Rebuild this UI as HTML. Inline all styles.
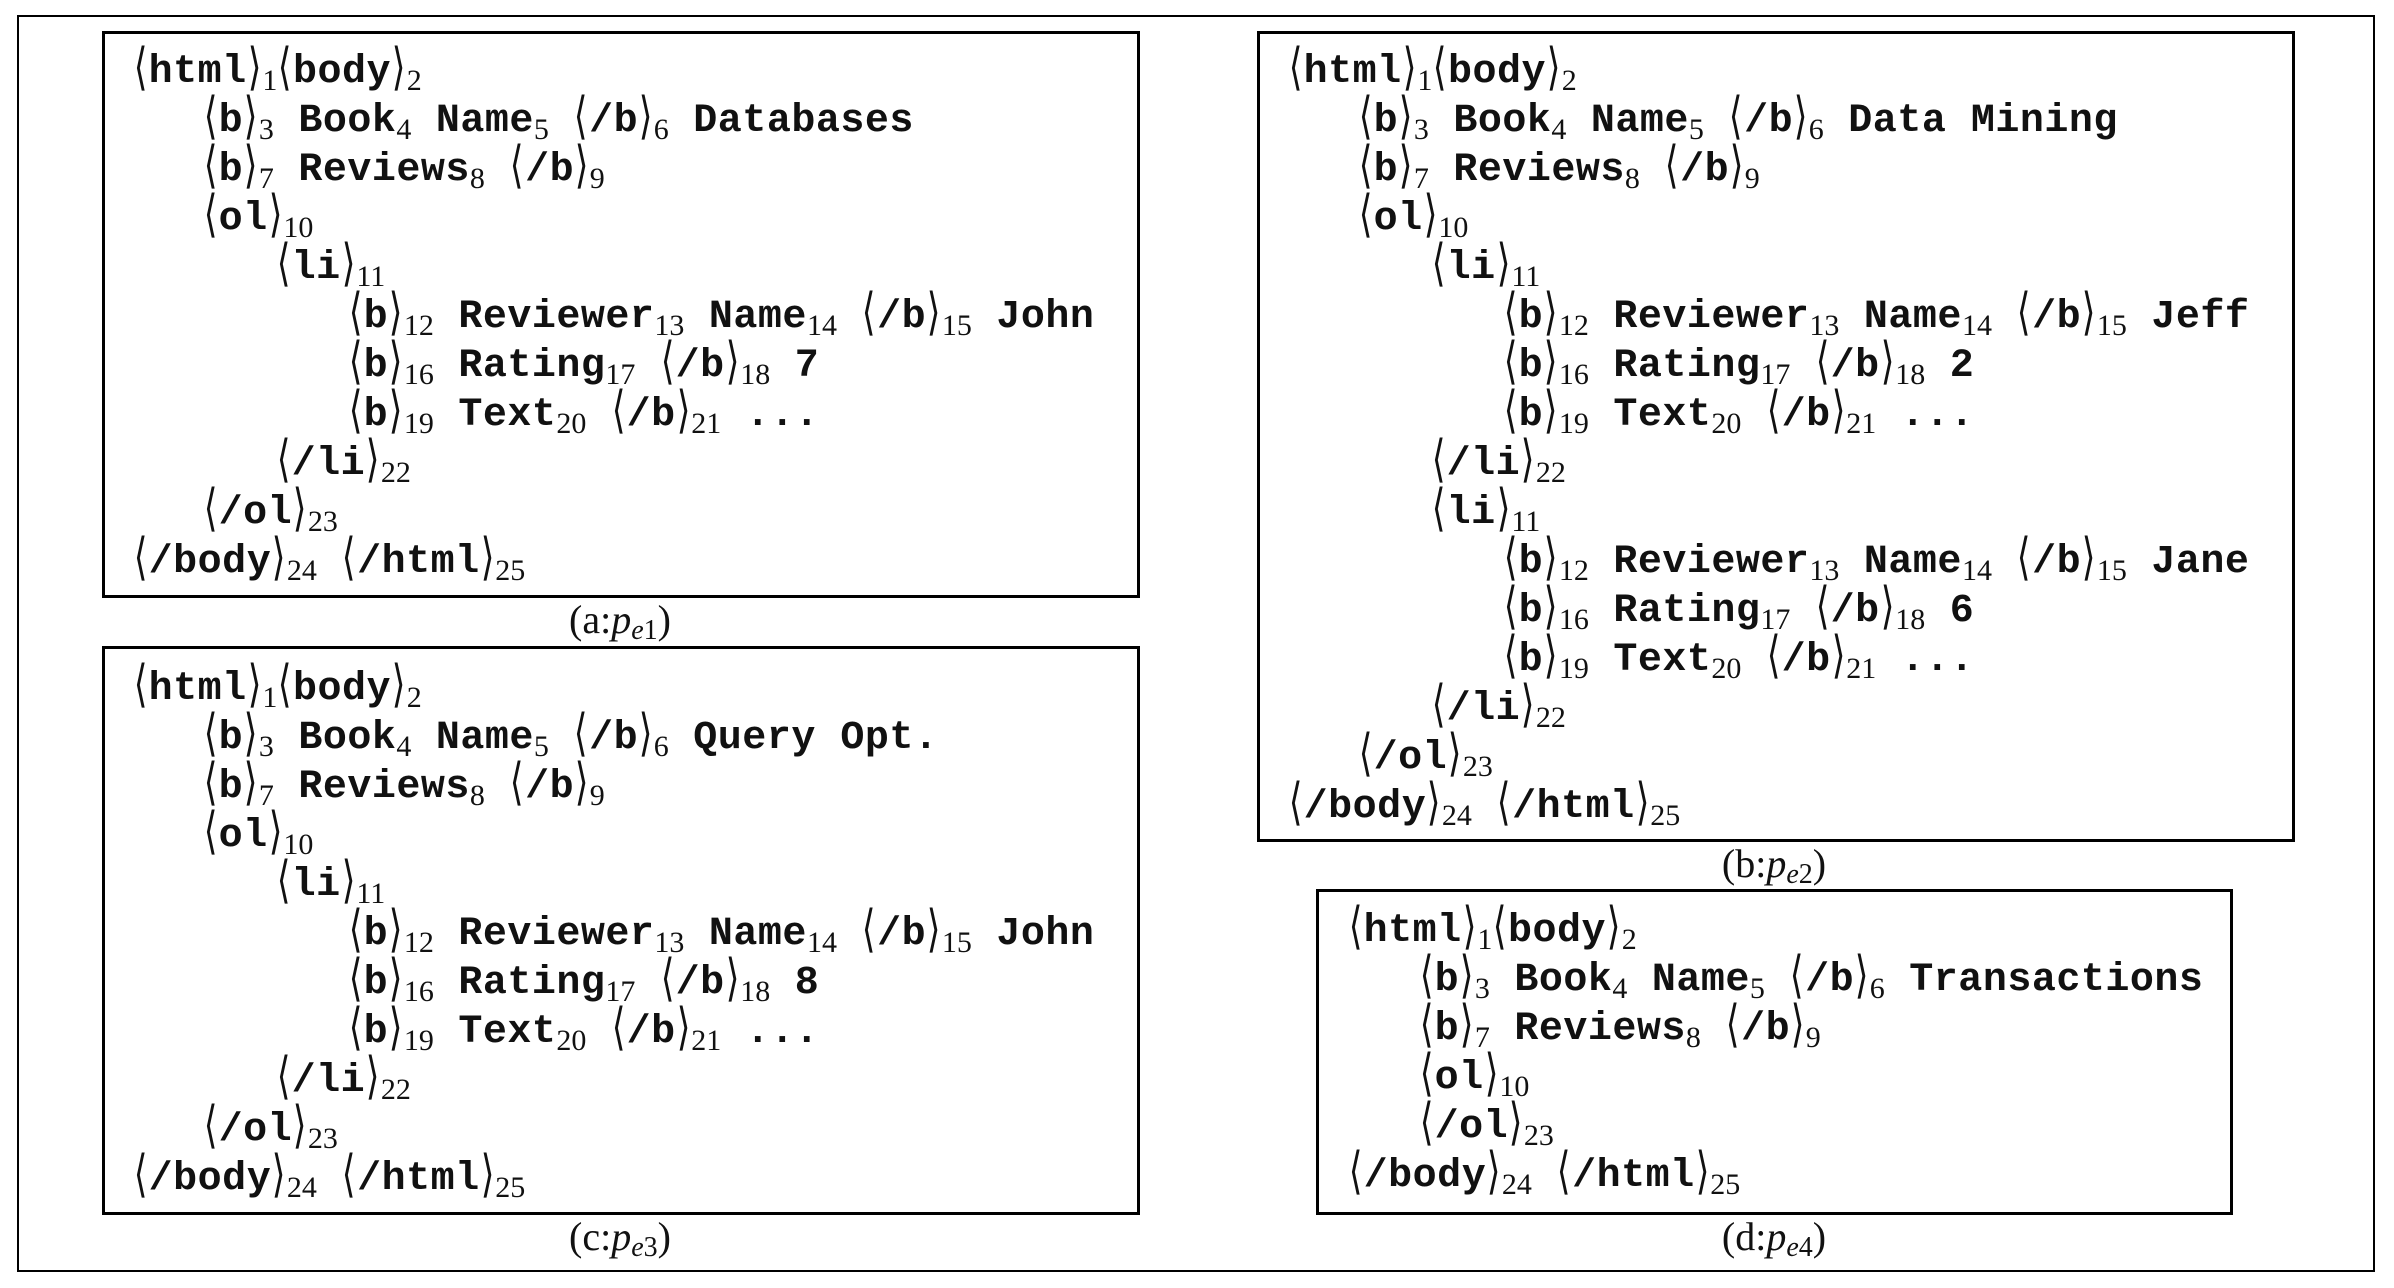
<!DOCTYPE html>
<html><head><meta charset="utf-8">
<style>
body{margin:0;width:2394px;height:1288px;background:#fff;position:relative;overflow:hidden;font-family:"Liberation Mono",monospace;color:#111}
.o{position:absolute;left:17px;top:15px;width:2358px;height:1257px;border:2.5px solid #000;box-sizing:border-box}
.bx{position:absolute;border:3px solid #000;box-sizing:border-box}
.ln{position:absolute;height:49px;line-height:49px;white-space:pre;font-weight:bold;font-size:40px;letter-spacing:0.5px;margin-top:-2px}
.ln i{font-style:normal;font-weight:normal;font-family:"DejaVu Serif",serif;font-size:44px;display:inline-block;transform:scaleX(0.8) scaleY(1.15);margin:0 -1px}
.ln sub{font-family:"Liberation Serif",serif;font-weight:normal;font-size:30px;vertical-align:-8px;line-height:0;letter-spacing:0}
.cap{position:absolute;font-family:"Liberation Serif",serif;font-size:40px;width:300px;text-align:center;line-height:40px}
.cap sub{font-size:28px;vertical-align:-6px;line-height:0}
</style></head><body>
<div class="o"></div>

<!-- box a -->
<div class="bx" style="left:102px;top:31px;width:1038px;height:567px"></div>
<div class="ln" style="left:133px;top:45px"><i>⟨</i>html<i>⟩</i><sub>1</sub><i>⟨</i>body<i>⟩</i><sub>2</sub></div>
<div class="ln" style="left:203px;top:94px"><i>⟨</i>b<i>⟩</i><sub>3</sub> Book<sub>4</sub> Name<sub>5</sub> <i>⟨</i>/b<i>⟩</i><sub>6</sub> Databases</div>
<div class="ln" style="left:203px;top:143px"><i>⟨</i>b<i>⟩</i><sub>7</sub> Reviews<sub>8</sub> <i>⟨</i>/b<i>⟩</i><sub>9</sub></div>
<div class="ln" style="left:203px;top:192px"><i>⟨</i>ol<i>⟩</i><sub>10</sub></div>
<div class="ln" style="left:276px;top:241px"><i>⟨</i>li<i>⟩</i><sub>11</sub></div>
<div class="ln" style="left:348px;top:290px"><i>⟨</i>b<i>⟩</i><sub>12</sub> Reviewer<sub>13</sub> Name<sub>14</sub> <i>⟨</i>/b<i>⟩</i><sub>15</sub> John</div>
<div class="ln" style="left:348px;top:339px"><i>⟨</i>b<i>⟩</i><sub>16</sub> Rating<sub>17</sub> <i>⟨</i>/b<i>⟩</i><sub>18</sub> 7</div>
<div class="ln" style="left:348px;top:388px"><i>⟨</i>b<i>⟩</i><sub>19</sub> Text<sub>20</sub> <i>⟨</i>/b<i>⟩</i><sub>21</sub> ...</div>
<div class="ln" style="left:276px;top:437px"><i>⟨</i>/li<i>⟩</i><sub>22</sub></div>
<div class="ln" style="left:203px;top:486px"><i>⟨</i>/ol<i>⟩</i><sub>23</sub></div>
<div class="ln" style="left:133px;top:535px"><i>⟨</i>/body<i>⟩</i><sub>24</sub> <i>⟨</i>/html<i>⟩</i><sub>25</sub></div>
<div class="cap" style="left:470px;top:600px">(a:<i>p</i><sub><i>e</i>1</sub>)</div>

<!-- box c -->
<div class="bx" style="left:102px;top:646px;width:1038px;height:569px"></div>
<div class="ln" style="left:133px;top:662px"><i>⟨</i>html<i>⟩</i><sub>1</sub><i>⟨</i>body<i>⟩</i><sub>2</sub></div>
<div class="ln" style="left:203px;top:711px"><i>⟨</i>b<i>⟩</i><sub>3</sub> Book<sub>4</sub> Name<sub>5</sub> <i>⟨</i>/b<i>⟩</i><sub>6</sub> Query Opt.</div>
<div class="ln" style="left:203px;top:760px"><i>⟨</i>b<i>⟩</i><sub>7</sub> Reviews<sub>8</sub> <i>⟨</i>/b<i>⟩</i><sub>9</sub></div>
<div class="ln" style="left:203px;top:809px"><i>⟨</i>ol<i>⟩</i><sub>10</sub></div>
<div class="ln" style="left:276px;top:858px"><i>⟨</i>li<i>⟩</i><sub>11</sub></div>
<div class="ln" style="left:348px;top:907px"><i>⟨</i>b<i>⟩</i><sub>12</sub> Reviewer<sub>13</sub> Name<sub>14</sub> <i>⟨</i>/b<i>⟩</i><sub>15</sub> John</div>
<div class="ln" style="left:348px;top:956px"><i>⟨</i>b<i>⟩</i><sub>16</sub> Rating<sub>17</sub> <i>⟨</i>/b<i>⟩</i><sub>18</sub> 8</div>
<div class="ln" style="left:348px;top:1005px"><i>⟨</i>b<i>⟩</i><sub>19</sub> Text<sub>20</sub> <i>⟨</i>/b<i>⟩</i><sub>21</sub> ...</div>
<div class="ln" style="left:276px;top:1054px"><i>⟨</i>/li<i>⟩</i><sub>22</sub></div>
<div class="ln" style="left:203px;top:1103px"><i>⟨</i>/ol<i>⟩</i><sub>23</sub></div>
<div class="ln" style="left:133px;top:1152px"><i>⟨</i>/body<i>⟩</i><sub>24</sub> <i>⟨</i>/html<i>⟩</i><sub>25</sub></div>
<div class="cap" style="left:470px;top:1217px">(c:<i>p</i><sub><i>e</i>3</sub>)</div>

<!-- box b -->
<div class="bx" style="left:1257px;top:31px;width:1038px;height:811px"></div>
<div class="ln" style="left:1288px;top:45px"><i>⟨</i>html<i>⟩</i><sub>1</sub><i>⟨</i>body<i>⟩</i><sub>2</sub></div>
<div class="ln" style="left:1358px;top:94px"><i>⟨</i>b<i>⟩</i><sub>3</sub> Book<sub>4</sub> Name<sub>5</sub> <i>⟨</i>/b<i>⟩</i><sub>6</sub> Data Mining</div>
<div class="ln" style="left:1358px;top:143px"><i>⟨</i>b<i>⟩</i><sub>7</sub> Reviews<sub>8</sub> <i>⟨</i>/b<i>⟩</i><sub>9</sub></div>
<div class="ln" style="left:1358px;top:192px"><i>⟨</i>ol<i>⟩</i><sub>10</sub></div>
<div class="ln" style="left:1431px;top:241px"><i>⟨</i>li<i>⟩</i><sub>11</sub></div>
<div class="ln" style="left:1503px;top:290px"><i>⟨</i>b<i>⟩</i><sub>12</sub> Reviewer<sub>13</sub> Name<sub>14</sub> <i>⟨</i>/b<i>⟩</i><sub>15</sub> Jeff</div>
<div class="ln" style="left:1503px;top:339px"><i>⟨</i>b<i>⟩</i><sub>16</sub> Rating<sub>17</sub> <i>⟨</i>/b<i>⟩</i><sub>18</sub> 2</div>
<div class="ln" style="left:1503px;top:388px"><i>⟨</i>b<i>⟩</i><sub>19</sub> Text<sub>20</sub> <i>⟨</i>/b<i>⟩</i><sub>21</sub> ...</div>
<div class="ln" style="left:1431px;top:437px"><i>⟨</i>/li<i>⟩</i><sub>22</sub></div>
<div class="ln" style="left:1431px;top:486px"><i>⟨</i>li<i>⟩</i><sub>11</sub></div>
<div class="ln" style="left:1503px;top:535px"><i>⟨</i>b<i>⟩</i><sub>12</sub> Reviewer<sub>13</sub> Name<sub>14</sub> <i>⟨</i>/b<i>⟩</i><sub>15</sub> Jane</div>
<div class="ln" style="left:1503px;top:584px"><i>⟨</i>b<i>⟩</i><sub>16</sub> Rating<sub>17</sub> <i>⟨</i>/b<i>⟩</i><sub>18</sub> 6</div>
<div class="ln" style="left:1503px;top:633px"><i>⟨</i>b<i>⟩</i><sub>19</sub> Text<sub>20</sub> <i>⟨</i>/b<i>⟩</i><sub>21</sub> ...</div>
<div class="ln" style="left:1431px;top:682px"><i>⟨</i>/li<i>⟩</i><sub>22</sub></div>
<div class="ln" style="left:1358px;top:731px"><i>⟨</i>/ol<i>⟩</i><sub>23</sub></div>
<div class="ln" style="left:1288px;top:780px"><i>⟨</i>/body<i>⟩</i><sub>24</sub> <i>⟨</i>/html<i>⟩</i><sub>25</sub></div>
<div class="cap" style="left:1624px;top:844px">(b:<i>p</i><sub><i>e</i>2</sub>)</div>

<!-- box d -->
<div class="bx" style="left:1316px;top:889px;width:917px;height:326px"></div>
<div class="ln" style="left:1348px;top:904px"><i>⟨</i>html<i>⟩</i><sub>1</sub><i>⟨</i>body<i>⟩</i><sub>2</sub></div>
<div class="ln" style="left:1419px;top:953px"><i>⟨</i>b<i>⟩</i><sub>3</sub> Book<sub>4</sub> Name<sub>5</sub> <i>⟨</i>/b<i>⟩</i><sub>6</sub> Transactions</div>
<div class="ln" style="left:1419px;top:1002px"><i>⟨</i>b<i>⟩</i><sub>7</sub> Reviews<sub>8</sub> <i>⟨</i>/b<i>⟩</i><sub>9</sub></div>
<div class="ln" style="left:1419px;top:1051px"><i>⟨</i>ol<i>⟩</i><sub>10</sub></div>
<div class="ln" style="left:1419px;top:1100px"><i>⟨</i>/ol<i>⟩</i><sub>23</sub></div>
<div class="ln" style="left:1348px;top:1149px"><i>⟨</i>/body<i>⟩</i><sub>24</sub> <i>⟨</i>/html<i>⟩</i><sub>25</sub></div>
<div class="cap" style="left:1624px;top:1217px">(d:<i>p</i><sub><i>e</i>4</sub>)</div>
</body></html>
